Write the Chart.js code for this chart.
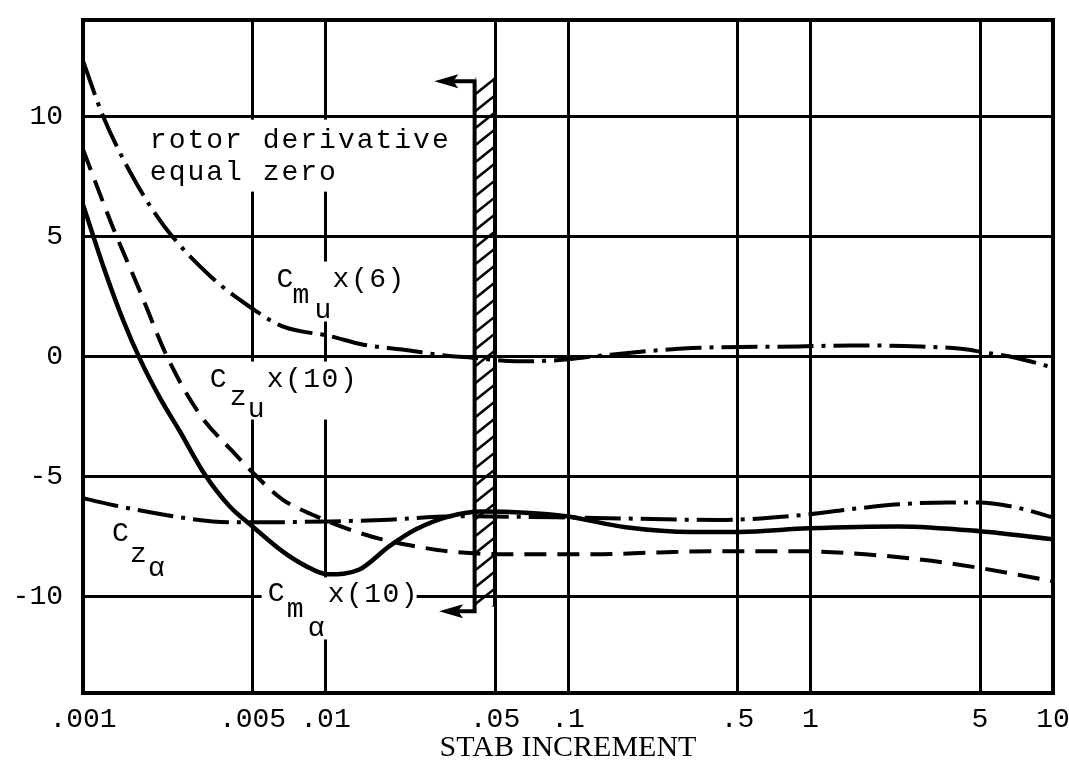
<!DOCTYPE html>
<html>
<head>
<meta charset="utf-8">
<title>Stab increment</title>
<script src="https://cdn.jsdelivr.net/npm/chart.js@4.4.1/dist/chart.umd.min.js"></script>
<style>
  html, body { margin: 0; padding: 0; background: #fff; }
  canvas { display: block; }
</style>
</head>
<body>
<canvas id="chart" width="1069" height="765"></canvas>
<script>
// Stability derivatives against stab increment (log x axis)

const X_TICKS = [0.001, 0.005, 0.01, 0.05, 0.1, 0.5, 1, 5, 10];
const X_TICK_LABELS = [".001", ".005", ".01", ".05", ".1", ".5", "1", "5", "10"];
const Y_TICKS = [-10, -5, 0, 5, 10];
const Y_TICK_LABELS = ["-10", "-5", "0", "5", "10"];

// Cm_u x(6) - dash dot
const CMU_X = [0.001, 0.00121, 0.00164, 0.00217, 0.00336, 0.00485, 0.00665, 0.0104, 0.0142, 0.0207, 0.0324, 0.0403, 0.061, 0.092, 0.126, 0.324, 0.89, 1.48, 2.8, 4.35, 5.0, 7.0, 10];
const CMU_Y = [12.3, 10.0, 7.3, 5.4, 3.33, 2.08, 1.25, 0.85, 0.5, 0.29, 0.02, -0.05, -0.2, -0.15, 0.0, 0.35, 0.42, 0.46, 0.42, 0.3, 0.2, -0.05, -0.46];

// Cz_u x(10) - dashed
const CZU_X = [0.001, 0.00133, 0.00172, 0.00222, 0.00303, 0.00414, 0.00496, 0.00665, 0.00916, 0.0125, 0.0171, 0.0236, 0.0324, 0.0572, 0.126, 0.237, 0.418, 0.89, 1.68, 3.15, 5.0, 10];
const CZU_Y = [8.61, 5.36, 2.7, 0.0, -2.41, -3.95, -4.78, -5.95, -6.65, -7.19, -7.61, -7.9, -8.11, -8.23, -8.23, -8.15, -8.1, -8.1, -8.23, -8.5, -8.8, -9.35];

// Cm_alpha x(10) - solid
const CMA_X = [0.001, 0.00121, 0.00146, 0.00172, 0.00207, 0.00251, 0.00318, 0.00403, 0.005, 0.00665, 0.0082, 0.0102, 0.0138, 0.0183, 0.0236, 0.0324, 0.0443, 0.067, 0.0982, 0.173, 0.324, 0.506, 0.98, 2.31, 5.0, 10];
const CMA_Y = [6.32, 3.78, 1.54, -0.12, -1.7, -3.12, -4.91, -6.24, -7.07, -8.11, -8.69, -9.06, -8.86, -7.9, -7.19, -6.65, -6.45, -6.5, -6.65, -7.1, -7.3, -7.3, -7.15, -7.07, -7.27, -7.6];

// Cz_alpha - dash dot
const CZA_X = [0.001, 0.00142, 0.00213, 0.00343, 0.005, 0.0104, 0.0171, 0.0346, 0.107, 0.418, 0.98, 1.44, 2.31, 3.7, 4.9, 7.2, 10];
const CZA_Y = [-5.9, -6.24, -6.57, -6.86, -6.9, -6.86, -6.8, -6.65, -6.7, -6.8, -6.57, -6.36, -6.15, -6.07, -6.07, -6.3, -6.7];

// hatched band: rotor derivative equal zero
const BAND_X = [0.0412, 0.05];
const BAND_Y = [11.6, -10.4];
const ARROW_Y = [11.45, -10.6];
const ARROW_TIP_X = [0.0281, 0.0294];

const FONT_MONO = '"Liberation Mono", "DejaVu Sans Mono", monospace';
const DASH_DOT = [36, 8, 4, 8];

// labels: anchor in data units, parts offset in px from anchor baseline
const LABELS = [
  { x: 0.001887, y: 8.69, spacing: "2px", box: [-5, -28, 317, 72],
    parts: [["rotor derivative", 0, 0], ["equal zero", 0, 32]] },
  { x: 0.006287, y: 2.91, box: [-5, -25, 136, 60],
    parts: [["C", 0, 0], ["m", 16, 16], ["u", 38, 31], ["x(6)", 56, 0]] },
  { x: 0.00333, y: -1.25, box: [-5, -25, 157, 58],
    parts: [["C", 0, 0], ["z", 20, 18], ["u", 38, 30], ["x(10)", 57, 0]] },
  { x: 0.001316, y: -7.69,
    parts: [["C", 0, 0], ["z", 18, 21], ["\u03b1", 36, 35]] },
  { x: 0.005773, y: -10.19, box: [-6, -24, 155, 62],
    parts: [["C", 0, 0], ["m", 19, 16], ["\u03b1", 40, 35], ["x(10)", 60, 1]] }
];

function toPoints(xs, ys) {
  return xs.map((x, i) => ({ x: x, y: ys[i] }));
}

function anchorOf(chart, l) {
  return {
    x: chart.scales.x.getPixelForValue(l.x),
    y: chart.scales.y.getPixelForValue(l.y)
  };
}

const decor = {
  id: "decor",
  beforeDatasetsDraw(chart) {
    // white patches behind the labels cut the grid like in the original
    const ctx = chart.ctx;
    ctx.save();
    ctx.fillStyle = "#fff";
    LABELS.forEach((l) => {
      if (!l.box) return;
      const p = anchorOf(chart, l);
      ctx.fillRect(p.x + l.box[0], p.y + l.box[1], l.box[2], l.box[3]);
    });
    ctx.restore();
  },
  afterDatasetsDraw(chart) {
    const ctx = chart.ctx;
    const xs = chart.scales.x;
    const ys = chart.scales.y;
    const area = chart.chartArea;

    ctx.save();
    ctx.strokeStyle = "#000";
    ctx.fillStyle = "#000";

    // hatched band
    const bl = xs.getPixelForValue(BAND_X[0]);
    const br = xs.getPixelForValue(BAND_X[1]);
    const bt = ys.getPixelForValue(BAND_Y[0]);
    const bb = ys.getPixelForValue(BAND_Y[1]);
    const w = br - bl;
    ctx.save();
    ctx.beginPath();
    ctx.rect(bl, bt, w, bb - bt);
    ctx.clip();
    ctx.lineWidth = 2.5;
    for (let y = bt; y < bb + w; y += 17) {
      ctx.beginPath();
      ctx.moveTo(bl, y);
      ctx.lineTo(br, y - w * 0.8);
      ctx.stroke();
    }
    ctx.restore();

    ctx.lineWidth = 4;
    ctx.beginPath();
    ctx.moveTo(br, bt);
    ctx.lineTo(br, bb);
    ctx.stroke();

    // left edge with both arrows
    const ay0 = ys.getPixelForValue(ARROW_Y[0]);
    const ay1 = ys.getPixelForValue(ARROW_Y[1]);
    const tip0 = xs.getPixelForValue(ARROW_TIP_X[0]);
    const tip1 = xs.getPixelForValue(ARROW_TIP_X[1]);
    ctx.beginPath();
    ctx.moveTo(tip0 + 15, ay0);
    ctx.lineTo(bl, ay0);
    ctx.lineTo(bl, ay1);
    ctx.lineTo(tip1 + 15, ay1);
    ctx.stroke();
    [[tip0, ay0], [tip1, ay1]].forEach(([tx, ty]) => {
      ctx.beginPath();
      ctx.moveTo(tx, ty);
      ctx.lineTo(tx + 24, ty - 7);
      ctx.lineTo(tx + 19, ty);
      ctx.lineTo(tx + 24, ty + 7);
      ctx.closePath();
      ctx.fill();
    });

    // frame
    ctx.lineWidth = 4;
    ctx.strokeRect(area.left, area.top, area.right - area.left, area.bottom - area.top);

    // labels
    ctx.font = "28px " + FONT_MONO;
    ctx.textBaseline = "alphabetic";
    ctx.textAlign = "left";
    LABELS.forEach((l) => {
      const p = anchorOf(chart, l);
      ctx.letterSpacing = l.spacing || "1.5px";
      l.parts.forEach(([t, dx, dy]) => ctx.fillText(t, p.x + dx, p.y + dy));
    });
    ctx.restore();
  }
};

const ctx = document.getElementById("chart");

new Chart(ctx, {
  type: "line",
  data: {
    datasets: [
      {
        label: "Cmu x(6)",
        data: toPoints(CMU_X, CMU_Y),
        borderColor: "#000",
        borderWidth: 4,
        borderDash: DASH_DOT,
        pointRadius: 0,
        cubicInterpolationMode: "monotone"
      },
      {
        label: "Czu x(10)",
        data: toPoints(CZU_X, CZU_Y),
        borderColor: "#000",
        borderWidth: 4,
        borderDash: [22, 11],
        pointRadius: 0,
        cubicInterpolationMode: "monotone"
      },
      {
        label: "Cma x(10)",
        data: toPoints(CMA_X, CMA_Y),
        borderColor: "#000",
        borderWidth: 4.5,
        pointRadius: 0,
        cubicInterpolationMode: "monotone"
      },
      {
        label: "Cza",
        data: toPoints(CZA_X, CZA_Y),
        borderColor: "#000",
        borderWidth: 4,
        borderDash: DASH_DOT,
        pointRadius: 0,
        cubicInterpolationMode: "monotone"
      }
    ]
  },
  options: {
    responsive: false,
    animation: false,
    layout: {
      padding: { left: 0, right: 16, top: 20, bottom: 0 }
    },
    plugins: {
      legend: { display: false },
      tooltip: { enabled: false }
    },
    scales: {
      x: {
        type: "logarithmic",
        min: 0.001,
        max: 10,
        afterBuildTicks: (scale) => {
          scale.ticks = X_TICKS.map((v) => ({ value: v }));
        },
        afterFit: (scale) => {
          scale.height = 72;
          scale.paddingLeft = 0;
          scale.paddingRight = 0;
        },
        ticks: {
          autoSkip: false,
          maxRotation: 0,
          padding: 10,
          color: "#000",
          font: { family: FONT_MONO, size: 28 },
          callback: (value, index) => X_TICK_LABELS[index]
        },
        grid: { color: "#000", lineWidth: 3, drawTicks: false },
        border: { display: false },
        title: {
          display: true,
          text: "STAB INCREMENT",
          color: "#000",
          font: { family: '"Liberation Serif", "DejaVu Serif", serif', size: 30, lineHeight: 1 },
          padding: { top: 0, bottom: 2 }
        }
      },
      y: {
        min: -14,
        max: 14,
        afterBuildTicks: (scale) => {
          scale.ticks = Y_TICKS.map((v) => ({ value: v }));
        },
        afterFit: (scale) => {
          scale.width = 83;
          scale.paddingTop = 0;
          scale.paddingBottom = 0;
        },
        ticks: {
          padding: 20,
          color: "#000",
          font: { family: FONT_MONO, size: 28 },
          callback: (value, index) => Y_TICK_LABELS[index]
        },
        grid: { color: "#000", lineWidth: 3, drawTicks: false },
        border: { display: false }
      }
    }
  },
  plugins: [decor]
});
</script>
</body>
</html>
